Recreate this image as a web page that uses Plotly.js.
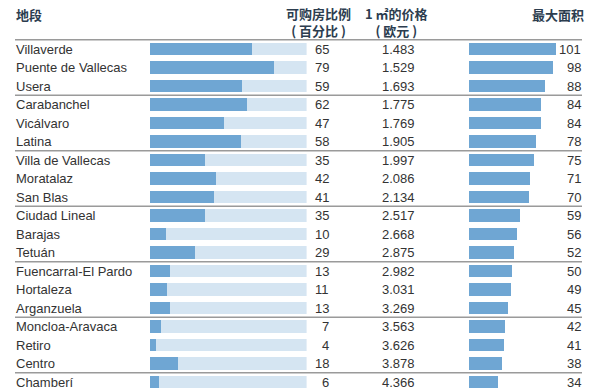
<!DOCTYPE html>
<html>
<head>
<meta charset="utf-8">
<script src="https://cdn.plot.ly/plotly-3.0.1.min.js"></script>
<style>html,body{margin:0;padding:0;background:#fff;}#chart{width:600px;height:391px;}</style>
</head>
<body>
<div id="chart"></div>
<script>
const districts = ["Villaverde","Puente de Vallecas","Usera","Carabanchel","Vicálvaro","Latina","Villa de Vallecas","Moratalaz","San Blas","Ciudad Lineal","Barajas","Tetuán","Fuencarral-El Pardo","Hortaleza","Arganzuela","Moncloa-Aravaca","Retiro","Centro","Chamberí"];
const pctAffordable = [65,79,59,62,47,58,35,42,41,35,10,29,13,11,13,7,4,18,6];
const pricePerM2 = [1483,1529,1693,1775,1769,1905,1997,2086,2134,2517,2668,2875,2982,3031,3269,3563,3626,3878,4366];
const maxArea = [101,98,88,84,84,78,75,71,70,59,56,52,50,49,45,42,41,38,34];
const headerDistrict = "地段";
const headerPct = ["可购房比例", "( 百分比 )"];
const headerPrice = ["1 ㎡的价格", "( 欧元 )"];
const headerArea = "最大面积";
const pctMax = 100;
const groupSize = 3;

const rows = districts.map((d,i)=>i);
const fmt = n => String(n).replace(/\B(?=(\d{3})+(?!\d))/g, ".");
const txtFont = {family:"Liberation Sans, Arial, sans-serif", size:13, color:"#333333"};
const hdrFont = {family:"Noto Sans CJK SC, sans-serif", size:13, color:"#2c3d4f", weight:700};
const dark = "#6fa6d3", light = "#d5e5f2";

const traces = [
  {type:"bar", orientation:"h", y:rows, x:rows.map(()=>pctMax), marker:{color:light}, width:0.7, xaxis:"x", yaxis:"y", hoverinfo:"skip"},
  {type:"bar", orientation:"h", y:rows, x:pctAffordable, marker:{color:dark}, width:0.7, xaxis:"x", yaxis:"y"},
  {type:"bar", orientation:"h", y:rows, x:maxArea, marker:{color:dark}, width:0.7, xaxis:"x2", yaxis:"y"}
];

const ann = [];
const cell = (x, y, text, anchor, font) => ann.push({xref:"paper", yref:"y", x:x, y:y, text:text, showarrow:false, xanchor:anchor, yanchor:"middle", font:font, borderpad:0});
districts.forEach((d,i)=>{
  cell(15/600, i, d, "left", txtFont);
  cell(330/600, i, String(pctAffordable[i]), "right", txtFont);
  cell(416/600, i, fmt(pricePerM2[i]), "right", txtFont);
  cell(582/600, i, String(maxArea[i]), "right", txtFont);
});
const hy1 = (14-49)/18.5, hyMid = (21.5-49)/18.5;
cell(15/600, hy1, headerDistrict, "left", hdrFont);
cell(318/600, hyMid, headerPct.join("<br>"), "center", hdrFont);
cell(396/600, hyMid, headerPrice.join("<br>"), "center", hdrFont);
cell(585/600, hy1, headerArea, "right", hdrFont);

const shapes = [];
for (let k = 0; k < districts.length; k += groupSize) {
  shapes.push({type:"line", xref:"paper", yref:"y", x0:15/600, x1:582/600, y0:k-0.5, y1:k-0.5, line:{color:"#9a9a9a", width:1.5}});
}

const layout = {
  width:600, height:391,
  margin:{l:0,r:0,t:0,b:0,pad:0},
  paper_bgcolor:"#fff", plot_bgcolor:"#fff",
  showlegend:false, barmode:"overlay", bargap:0,
  xaxis:{domain:[150/600, 306.6/600], range:[0,100], visible:false, fixedrange:true},
  xaxis2:{domain:[469/600, 559/600], range:[0,104.5], visible:false, fixedrange:true},
  yaxis:{range:[(391-49)/18.5, -49/18.5], visible:false, fixedrange:true},
  annotations:ann, shapes:shapes
};
Plotly.newPlot("chart", traces, layout, {staticPlot:true, displayModeBar:false});
</script>
</body>
</html>
